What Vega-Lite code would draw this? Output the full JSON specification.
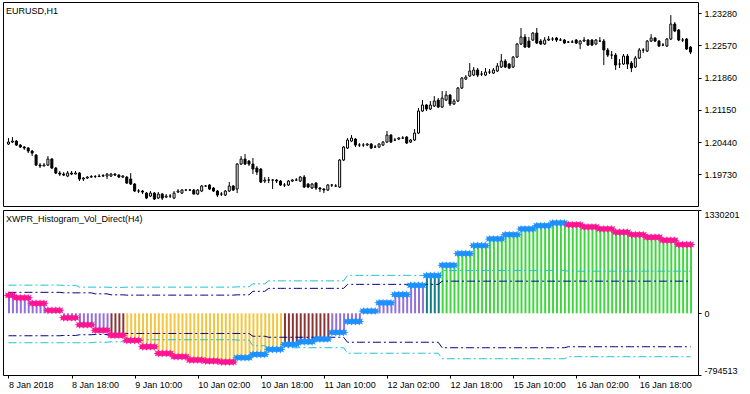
{
"$schema":"https://vega.github.io/schema/vega-lite/v6.json",
"padding":{"left":2,"top":1,"right":0,"bottom":0},
"spacing":2,
"config":{"view":{"stroke":"#000","strokeWidth":1},"font":"Liberation Sans","axis":{"labelFont":"Liberation Sans","labelFontSize":9,"labelColor":"#000","tickColor":"#000","domain":false,"grid":false,"tickSize":3,"title":null},"title":{"font":"Liberation Sans","fontSize":9,"fontWeight":"normal","color":"#000","anchor":"start","frame":"group","baseline":"alphabetic","offset":-14,"dx":3}},
"datasets":{"bars":[
{"i":0,"o":1.20397,"h":1.20529,"l":1.20375,"c":1.20441,"v":231372,"z":"N","d":"dn","cu":362483,"nu":269934,"nl":-289215,"cl":-379193},
{"i":1,"o":1.20441,"h":1.20551,"l":1.20419,"c":1.20463,"v":231372,"z":"N","d":"dn","cu":362483,"nu":269934,"nl":-289215,"cl":-379193},
{"i":2,"o":1.20463,"h":1.20485,"l":1.20353,"c":1.20375,"v":199237,"z":"N","d":"dn","cu":362483,"nu":269934,"nl":-289215,"cl":-379193},
{"i":3,"o":1.20375,"h":1.20397,"l":1.20309,"c":1.20331,"v":199237,"z":"N","d":"dn","cu":362483,"nu":269934,"nl":-289215,"cl":-379193},
{"i":4,"o":1.20331,"h":1.20353,"l":1.20265,"c":1.20309,"v":199237,"z":"N","d":"dn","cu":362483,"nu":269934,"nl":-289215,"cl":-379193},
{"i":5,"o":1.20309,"h":1.20331,"l":1.20198,"c":1.20243,"v":199237,"z":"N","d":"dn","cu":362483,"nu":269934,"nl":-289215,"cl":-379193},
{"i":6,"o":1.20243,"h":1.20265,"l":1.20132,"c":1.20198,"v":128540,"z":"N","d":"dn","cu":362483,"nu":269934,"nl":-289215,"cl":-379193},
{"i":7,"o":1.20154,"h":1.20176,"l":1.19912,"c":1.19934,"v":128540,"z":"N","d":"dn","cu":362483,"nu":269934,"nl":-289215,"cl":-379193},
{"i":8,"o":1.19934,"h":1.19978,"l":1.19868,"c":1.19912,"v":128540,"z":"N","d":"dn","cu":362483,"nu":269934,"nl":-289215,"cl":-379193},
{"i":9,"o":1.19912,"h":1.19978,"l":1.19912,"c":1.19934,"v":128540,"z":"N","d":"dn","cu":362483,"nu":269934,"nl":-289215,"cl":-379193},
{"i":10,"o":1.19934,"h":1.20132,"l":1.19912,"c":1.20066,"v":38562,"z":"N","d":"dn","cu":362483,"nu":269934,"nl":-289215,"cl":-379193},
{"i":11,"o":1.20066,"h":1.20088,"l":1.19846,"c":1.19868,"v":38562,"z":"N","d":"dn","cu":362483,"nu":269934,"nl":-289215,"cl":-379193},
{"i":12,"o":1.19868,"h":1.19890,"l":1.19735,"c":1.19757,"v":38562,"z":"N","d":"dn","cu":362483,"nu":269934,"nl":-289215,"cl":-379193},
{"i":13,"o":1.19757,"h":1.19802,"l":1.19691,"c":1.19735,"v":38562,"z":"N","d":"dn","cu":362483,"nu":269934,"nl":-289215,"cl":-379193},
{"i":14,"o":1.19735,"h":1.19779,"l":1.19691,"c":1.19713,"v":-57843,"z":"N","d":"dn","cu":359912,"nu":263507,"nl":-285359,"cl":-379193},
{"i":15,"o":1.19691,"h":1.19802,"l":1.19669,"c":1.19757,"v":-57843,"z":"N","d":"dn","cu":359912,"nu":263507,"nl":-285359,"cl":-379193},
{"i":16,"o":1.19757,"h":1.19802,"l":1.19713,"c":1.19735,"v":-57843,"z":"N","d":"dn","cu":359912,"nu":263507,"nl":-285359,"cl":-379193},
{"i":17,"o":1.19735,"h":1.19802,"l":1.19735,"c":1.19757,"v":-57843,"z":"N","d":"dn","cu":359912,"nu":263507,"nl":-285359,"cl":-379193},
{"i":18,"o":1.19757,"h":1.19779,"l":1.19581,"c":1.19625,"v":-147821,"z":"N","d":"dn","cu":336775,"nu":263507,"nl":-276361,"cl":-379193},
{"i":19,"o":1.19625,"h":1.19669,"l":1.19581,"c":1.19647,"v":-147821,"z":"N","d":"dn","cu":336775,"nu":263507,"nl":-276361,"cl":-379193},
{"i":20,"o":1.19647,"h":1.19691,"l":1.19625,"c":1.19669,"v":-147821,"z":"N","d":"dn","cu":336775,"nu":263507,"nl":-276361,"cl":-379193},
{"i":21,"o":1.19669,"h":1.19713,"l":1.19647,"c":1.19680,"v":-147821,"z":"N","d":"dn","cu":336775,"nu":263507,"nl":-276361,"cl":-379193},
{"i":22,"o":1.19680,"h":1.19713,"l":1.19647,"c":1.19680,"v":-218518,"z":"N","d":"dn","cu":336775,"nu":250653,"nl":-272505,"cl":-372766},
{"i":23,"o":1.19680,"h":1.19735,"l":1.19669,"c":1.19691,"v":-218518,"z":"N","d":"dn","cu":336775,"nu":250653,"nl":-272505,"cl":-372766},
{"i":24,"o":1.19691,"h":1.19735,"l":1.19669,"c":1.19702,"v":-218518,"z":"N","d":"dn","cu":336775,"nu":250653,"nl":-272505,"cl":-372766},
{"i":25,"o":1.19691,"h":1.19757,"l":1.19625,"c":1.19735,"v":-218518,"z":"N","d":"dn","cu":336775,"nu":250653,"nl":-272505,"cl":-372766},
{"i":26,"o":1.19691,"h":1.19757,"l":1.19669,"c":1.19735,"v":-282788,"z":"WD","d":"dn","cu":334204,"nu":237799,"nl":-269934,"cl":-366339},
{"i":27,"o":1.19735,"h":1.19757,"l":1.19691,"c":1.19713,"v":-282788,"z":"WD","d":"dn","cu":334204,"nu":237799,"nl":-269934,"cl":-366339},
{"i":28,"o":1.19713,"h":1.19735,"l":1.19647,"c":1.19669,"v":-282788,"z":"WD","d":"dn","cu":334204,"nu":237799,"nl":-269934,"cl":-366339},
{"i":29,"o":1.19669,"h":1.19713,"l":1.19647,"c":1.19691,"v":-282788,"z":"WD","d":"dn","cu":334204,"nu":237799,"nl":-269934,"cl":-366339},
{"i":30,"o":1.19669,"h":1.19691,"l":1.19515,"c":1.19537,"v":-349629,"z":"SD","d":"dn","cu":336775,"nu":233943,"nl":-259651,"cl":-340631},
{"i":31,"o":1.19625,"h":1.19757,"l":1.19493,"c":1.19515,"v":-349629,"z":"SD","d":"dn","cu":336775,"nu":233943,"nl":-259651,"cl":-340631},
{"i":32,"o":1.19515,"h":1.19537,"l":1.19338,"c":1.19361,"v":-349629,"z":"SD","d":"dn","cu":336775,"nu":233943,"nl":-259651,"cl":-340631},
{"i":33,"o":1.19361,"h":1.19405,"l":1.19316,"c":1.19361,"v":-349629,"z":"SD","d":"dn","cu":336775,"nu":233943,"nl":-259651,"cl":-340631},
{"i":34,"o":1.19361,"h":1.19383,"l":1.19294,"c":1.19338,"v":-430609,"z":"SD","d":"dn","cu":336775,"nu":233943,"nl":-259651,"cl":-340631},
{"i":35,"o":1.19316,"h":1.19338,"l":1.19184,"c":1.19206,"v":-430609,"z":"SD","d":"dn","cu":336775,"nu":233943,"nl":-259651,"cl":-340631},
{"i":36,"o":1.19250,"h":1.19361,"l":1.19228,"c":1.19316,"v":-430609,"z":"SD","d":"dn","cu":336775,"nu":233943,"nl":-259651,"cl":-340631},
{"i":37,"o":1.19316,"h":1.19338,"l":1.19162,"c":1.19184,"v":-430609,"z":"SD","d":"dn","cu":336775,"nu":233943,"nl":-259651,"cl":-340631},
{"i":38,"o":1.19206,"h":1.19338,"l":1.19184,"c":1.19294,"v":-516731,"z":"SD","d":"dn","cu":336775,"nu":233943,"nl":-259651,"cl":-340631},
{"i":39,"o":1.19294,"h":1.19316,"l":1.19162,"c":1.19206,"v":-516731,"z":"SD","d":"dn","cu":336775,"nu":233943,"nl":-259651,"cl":-340631},
{"i":40,"o":1.19228,"h":1.19294,"l":1.19206,"c":1.19250,"v":-516731,"z":"SD","d":"dn","cu":336775,"nu":233943,"nl":-259651,"cl":-340631},
{"i":41,"o":1.19250,"h":1.19294,"l":1.19206,"c":1.19250,"v":-516731,"z":"SD","d":"dn","cu":336775,"nu":233943,"nl":-259651,"cl":-340631},
{"i":42,"o":1.19206,"h":1.19361,"l":1.19184,"c":1.19316,"v":-559149,"z":"SD","d":"dn","cu":336775,"nu":233943,"nl":-259651,"cl":-340631},
{"i":43,"o":1.19338,"h":1.19405,"l":1.19316,"c":1.19361,"v":-559149,"z":"SD","d":"dn","cu":336775,"nu":233943,"nl":-259651,"cl":-340631},
{"i":44,"o":1.19316,"h":1.19405,"l":1.19294,"c":1.19383,"v":-559149,"z":"SD","d":"dn","cu":336775,"nu":233943,"nl":-259651,"cl":-340631},
{"i":45,"o":1.19383,"h":1.19405,"l":1.19361,"c":1.19383,"v":-559149,"z":"SD","d":"dn","cu":336775,"nu":233943,"nl":-259651,"cl":-340631},
{"i":46,"o":1.19383,"h":1.19405,"l":1.19361,"c":1.19383,"v":-601567,"z":"SD","d":"dn","cu":336775,"nu":233943,"nl":-259651,"cl":-340631},
{"i":47,"o":1.19383,"h":1.19405,"l":1.19294,"c":1.19294,"v":-601567,"z":"SD","d":"dn","cu":336775,"nu":233943,"nl":-259651,"cl":-340631},
{"i":48,"o":1.19294,"h":1.19405,"l":1.19272,"c":1.19383,"v":-601567,"z":"SD","d":"dn","cu":336775,"nu":233943,"nl":-259651,"cl":-340631},
{"i":49,"o":1.19361,"h":1.19493,"l":1.19338,"c":1.19471,"v":-601567,"z":"SD","d":"dn","cu":336775,"nu":233943,"nl":-259651,"cl":-340631},
{"i":50,"o":1.19471,"h":1.19493,"l":1.19449,"c":1.19471,"v":-614421,"z":"SD","d":"dn","cu":336775,"nu":233943,"nl":-259651,"cl":-340631},
{"i":51,"o":1.19493,"h":1.19515,"l":1.19383,"c":1.19405,"v":-614421,"z":"SD","d":"dn","cu":336775,"nu":233943,"nl":-259651,"cl":-340631},
{"i":52,"o":1.19427,"h":1.19449,"l":1.19338,"c":1.19361,"v":-614421,"z":"SD","d":"dn","cu":336775,"nu":233943,"nl":-259651,"cl":-340631},
{"i":53,"o":1.19361,"h":1.19383,"l":1.19228,"c":1.19272,"v":-614421,"z":"SD","d":"dn","cu":336775,"nu":233943,"nl":-259651,"cl":-340631},
{"i":54,"o":1.19294,"h":1.19338,"l":1.19250,"c":1.19294,"v":-627275,"z":"SD","d":"dn","cu":336775,"nu":233943,"nl":-259651,"cl":-340631},
{"i":55,"o":1.19272,"h":1.19383,"l":1.19250,"c":1.19361,"v":-627275,"z":"SD","d":"dn","cu":336775,"nu":233943,"nl":-259651,"cl":-340631},
{"i":56,"o":1.19361,"h":1.19559,"l":1.19338,"c":1.19471,"v":-627275,"z":"SD","d":"dn","cu":336775,"nu":233943,"nl":-259651,"cl":-340631},
{"i":57,"o":1.19471,"h":1.19493,"l":1.19361,"c":1.19383,"v":-627275,"z":"SD","d":"dn","cu":336775,"nu":233943,"nl":-259651,"cl":-340631},
{"i":58,"o":1.19405,"h":1.19978,"l":1.19316,"c":1.19956,"v":-572003,"z":"SD","d":"up","cu":340631,"nu":237799,"nl":-259651,"cl":-344487},
{"i":59,"o":1.19956,"h":1.20132,"l":1.19934,"c":1.20066,"v":-572003,"z":"SD","d":"up","cu":340631,"nu":237799,"nl":-259651,"cl":-344487},
{"i":60,"o":1.20066,"h":1.20176,"l":1.19934,"c":1.19956,"v":-572003,"z":"SD","d":"up","cu":340631,"nu":237799,"nl":-259651,"cl":-344487},
{"i":61,"o":1.20022,"h":1.20044,"l":1.19912,"c":1.19956,"v":-572003,"z":"SD","d":"up","cu":340631,"nu":237799,"nl":-259651,"cl":-344487},
{"i":62,"o":1.19956,"h":1.20088,"l":1.19735,"c":1.19846,"v":-529585,"z":"SD","d":"up","cu":379193,"nu":282788,"nl":-295642,"cl":-417755},
{"i":63,"o":1.19868,"h":1.19912,"l":1.19713,"c":1.19779,"v":-529585,"z":"SD","d":"up","cu":379193,"nu":282788,"nl":-295642,"cl":-417755},
{"i":64,"o":1.19846,"h":1.19868,"l":1.19537,"c":1.19559,"v":-529585,"z":"SD","d":"up","cu":379193,"nu":282788,"nl":-295642,"cl":-417755},
{"i":65,"o":1.19581,"h":1.19669,"l":1.19537,"c":1.19603,"v":-529585,"z":"SD","d":"up","cu":379193,"nu":282788,"nl":-295642,"cl":-417755},
{"i":66,"o":1.19603,"h":1.19669,"l":1.19537,"c":1.19603,"v":-465315,"z":"SD","d":"up","cu":417755,"nu":321350,"nl":-308496,"cl":-443463},
{"i":67,"o":1.19603,"h":1.19625,"l":1.19405,"c":1.19603,"v":-465315,"z":"SD","d":"up","cu":417755,"nu":321350,"nl":-308496,"cl":-443463},
{"i":68,"o":1.19603,"h":1.19625,"l":1.19537,"c":1.19581,"v":-465315,"z":"SD","d":"up","cu":417755,"nu":321350,"nl":-308496,"cl":-443463},
{"i":69,"o":1.19581,"h":1.19603,"l":1.19471,"c":1.19493,"v":-465315,"z":"SD","d":"up","cu":417755,"nu":321350,"nl":-308496,"cl":-443463},
{"i":70,"o":1.19493,"h":1.19537,"l":1.19449,"c":1.19493,"v":-401045,"z":"WD","d":"up","cu":417755,"nu":321350,"nl":-308496,"cl":-443463},
{"i":71,"o":1.19493,"h":1.19603,"l":1.19471,"c":1.19581,"v":-401045,"z":"WD","d":"up","cu":417755,"nu":321350,"nl":-308496,"cl":-443463},
{"i":72,"o":1.19581,"h":1.19625,"l":1.19559,"c":1.19603,"v":-401045,"z":"WD","d":"up","cu":417755,"nu":321350,"nl":-308496,"cl":-443463},
{"i":73,"o":1.19603,"h":1.19647,"l":1.19581,"c":1.19603,"v":-401045,"z":"WD","d":"up","cu":417755,"nu":321350,"nl":-308496,"cl":-443463},
{"i":74,"o":1.19581,"h":1.19691,"l":1.19559,"c":1.19669,"v":-366339,"z":"WD","d":"up","cu":417755,"nu":321350,"nl":-308496,"cl":-443463},
{"i":75,"o":1.19669,"h":1.19713,"l":1.19427,"c":1.19449,"v":-366339,"z":"WD","d":"up","cu":417755,"nu":321350,"nl":-308496,"cl":-443463},
{"i":76,"o":1.19515,"h":1.19537,"l":1.19427,"c":1.19449,"v":-366339,"z":"WD","d":"up","cu":417755,"nu":321350,"nl":-308496,"cl":-443463},
{"i":77,"o":1.19427,"h":1.19537,"l":1.19405,"c":1.19515,"v":-366339,"z":"WD","d":"up","cu":417755,"nu":321350,"nl":-308496,"cl":-443463},
{"i":78,"o":1.19537,"h":1.19559,"l":1.19383,"c":1.19427,"v":-331633,"z":"WD","d":"up","cu":417755,"nu":321350,"nl":-308496,"cl":-443463},
{"i":79,"o":1.19427,"h":1.19449,"l":1.19338,"c":1.19405,"v":-331633,"z":"WD","d":"up","cu":417755,"nu":321350,"nl":-308496,"cl":-443463},
{"i":80,"o":1.19405,"h":1.19427,"l":1.19316,"c":1.19383,"v":-331633,"z":"WD","d":"up","cu":417755,"nu":321350,"nl":-308496,"cl":-443463},
{"i":81,"o":1.19383,"h":1.19515,"l":1.19361,"c":1.19493,"v":-331633,"z":"WD","d":"up","cu":417755,"nu":321350,"nl":-308496,"cl":-443463},
{"i":82,"o":1.19493,"h":1.19515,"l":1.19449,"c":1.19493,"v":-246797,"z":"N","d":"up","cu":417755,"nu":321350,"nl":-308496,"cl":-443463},
{"i":83,"o":1.19471,"h":1.19515,"l":1.19449,"c":1.19471,"v":-246797,"z":"N","d":"up","cu":417755,"nu":321350,"nl":-308496,"cl":-443463},
{"i":84,"o":1.19449,"h":1.20066,"l":1.19427,"c":1.20044,"v":-246797,"z":"N","d":"up","cu":417755,"nu":321350,"nl":-308496,"cl":-443463},
{"i":85,"o":1.20044,"h":1.20353,"l":1.20022,"c":1.20331,"v":-246797,"z":"N","d":"up","cu":417755,"nu":321350,"nl":-308496,"cl":-443463},
{"i":86,"o":1.20309,"h":1.20529,"l":1.20287,"c":1.20485,"v":-105403,"z":"N","d":"up","cu":488452,"nu":372766,"nl":-372766,"cl":-514160},
{"i":87,"o":1.20463,"h":1.20595,"l":1.20441,"c":1.20529,"v":-105403,"z":"N","d":"up","cu":488452,"nu":372766,"nl":-372766,"cl":-514160},
{"i":88,"o":1.20507,"h":1.20529,"l":1.20331,"c":1.20375,"v":-105403,"z":"N","d":"up","cu":488452,"nu":372766,"nl":-372766,"cl":-514160},
{"i":89,"o":1.20375,"h":1.20419,"l":1.20331,"c":1.20375,"v":-105403,"z":"N","d":"up","cu":488452,"nu":372766,"nl":-372766,"cl":-514160},
{"i":90,"o":1.20375,"h":1.20419,"l":1.20331,"c":1.20375,"v":28279,"z":"N","d":"up","cu":488452,"nu":372766,"nl":-372766,"cl":-514160},
{"i":91,"o":1.20375,"h":1.20419,"l":1.20353,"c":1.20397,"v":28279,"z":"N","d":"up","cu":488452,"nu":372766,"nl":-372766,"cl":-514160},
{"i":92,"o":1.20397,"h":1.20419,"l":1.20287,"c":1.20309,"v":28279,"z":"N","d":"up","cu":488452,"nu":372766,"nl":-372766,"cl":-514160},
{"i":93,"o":1.20331,"h":1.20375,"l":1.20309,"c":1.20331,"v":28279,"z":"N","d":"up","cu":488452,"nu":372766,"nl":-372766,"cl":-514160},
{"i":94,"o":1.20331,"h":1.20419,"l":1.20309,"c":1.20397,"v":134967,"z":"N","d":"up","cu":488452,"nu":372766,"nl":-372766,"cl":-514160},
{"i":95,"o":1.20375,"h":1.20463,"l":1.20353,"c":1.20441,"v":134967,"z":"N","d":"up","cu":488452,"nu":372766,"nl":-372766,"cl":-514160},
{"i":96,"o":1.20441,"h":1.20684,"l":1.20419,"c":1.20595,"v":134967,"z":"N","d":"up","cu":488452,"nu":372766,"nl":-372766,"cl":-514160},
{"i":97,"o":1.20595,"h":1.20617,"l":1.20419,"c":1.20441,"v":134967,"z":"N","d":"up","cu":488452,"nu":372766,"nl":-372766,"cl":-514160},
{"i":98,"o":1.20485,"h":1.20529,"l":1.20463,"c":1.20485,"v":241655,"z":"N","d":"up","cu":488452,"nu":372766,"nl":-372766,"cl":-514160},
{"i":99,"o":1.20507,"h":1.20551,"l":1.20485,"c":1.20529,"v":241655,"z":"N","d":"up","cu":488452,"nu":372766,"nl":-372766,"cl":-514160},
{"i":100,"o":1.20529,"h":1.20573,"l":1.20507,"c":1.20529,"v":241655,"z":"N","d":"up","cu":488452,"nu":372766,"nl":-372766,"cl":-514160},
{"i":101,"o":1.20551,"h":1.20573,"l":1.20397,"c":1.20419,"v":241655,"z":"N","d":"up","cu":488452,"nu":372766,"nl":-372766,"cl":-514160},
{"i":102,"o":1.20441,"h":1.20507,"l":1.20419,"c":1.20485,"v":359912,"z":"N","d":"up","cu":488452,"nu":372766,"nl":-372766,"cl":-514160},
{"i":103,"o":1.20485,"h":1.20728,"l":1.20463,"c":1.20639,"v":359912,"z":"N","d":"up","cu":488452,"nu":372766,"nl":-372766,"cl":-514160},
{"i":104,"o":1.20639,"h":1.21191,"l":1.20617,"c":1.21125,"v":359912,"z":"N","d":"up","cu":488452,"nu":372766,"nl":-372766,"cl":-514160},
{"i":105,"o":1.21125,"h":1.21367,"l":1.21102,"c":1.21257,"v":359912,"z":"N","d":"up","cu":488452,"nu":372766,"nl":-372766,"cl":-514160},
{"i":106,"o":1.21257,"h":1.21279,"l":1.21125,"c":1.21169,"v":485881,"z":"WU","d":"up","cu":488452,"nu":372766,"nl":-372766,"cl":-514160},
{"i":107,"o":1.21169,"h":1.21345,"l":1.21147,"c":1.21257,"v":485881,"z":"WU","d":"up","cu":488452,"nu":372766,"nl":-372766,"cl":-514160},
{"i":108,"o":1.21235,"h":1.21455,"l":1.21213,"c":1.21345,"v":485881,"z":"WU","d":"up","cu":488452,"nu":372766,"nl":-372766,"cl":-514160},
{"i":109,"o":1.21367,"h":1.21411,"l":1.21191,"c":1.21213,"v":485881,"z":"WU","d":"up","cu":488452,"nu":372766,"nl":-372766,"cl":-514160},
{"i":110,"o":1.21213,"h":1.21566,"l":1.21191,"c":1.21411,"v":619563,"z":"SU","d":"up","cu":550151,"nu":413899,"nl":-443463,"cl":-584857},
{"i":111,"o":1.21367,"h":1.21566,"l":1.21345,"c":1.21477,"v":619563,"z":"SU","d":"up","cu":550151,"nu":413899,"nl":-443463,"cl":-584857},
{"i":112,"o":1.21477,"h":1.21499,"l":1.21235,"c":1.21279,"v":619563,"z":"SU","d":"up","cu":550151,"nu":413899,"nl":-443463,"cl":-584857},
{"i":113,"o":1.21279,"h":1.21389,"l":1.21257,"c":1.21345,"v":619563,"z":"SU","d":"up","cu":550151,"nu":413899,"nl":-443463,"cl":-584857},
{"i":114,"o":1.21345,"h":1.21654,"l":1.21323,"c":1.21632,"v":768669,"z":"SU","d":"up","cu":550151,"nu":413899,"nl":-443463,"cl":-584857},
{"i":115,"o":1.21632,"h":1.21874,"l":1.21610,"c":1.21852,"v":768669,"z":"SU","d":"up","cu":550151,"nu":413899,"nl":-443463,"cl":-584857},
{"i":116,"o":1.21830,"h":1.21918,"l":1.21808,"c":1.21874,"v":768669,"z":"SU","d":"up","cu":550151,"nu":413899,"nl":-443463,"cl":-584857},
{"i":117,"o":1.21896,"h":1.22183,"l":1.21874,"c":1.22007,"v":768669,"z":"SU","d":"up","cu":550151,"nu":413899,"nl":-443463,"cl":-584857},
{"i":118,"o":1.21918,"h":1.22095,"l":1.21896,"c":1.22029,"v":871501,"z":"SU","d":"up","cu":550151,"nu":413899,"nl":-443463,"cl":-584857},
{"i":119,"o":1.22029,"h":1.22073,"l":1.21874,"c":1.21918,"v":871501,"z":"SU","d":"up","cu":550151,"nu":413899,"nl":-443463,"cl":-584857},
{"i":120,"o":1.21940,"h":1.22007,"l":1.21896,"c":1.21940,"v":871501,"z":"SU","d":"up","cu":550151,"nu":413899,"nl":-443463,"cl":-584857},
{"i":121,"o":1.21918,"h":1.22073,"l":1.21896,"c":1.21984,"v":871501,"z":"SU","d":"up","cu":550151,"nu":413899,"nl":-443463,"cl":-584857},
{"i":122,"o":1.21984,"h":1.22051,"l":1.21940,"c":1.21984,"v":957623,"z":"SU","d":"up","cu":550151,"nu":413899,"nl":-443463,"cl":-584857},
{"i":123,"o":1.21962,"h":1.22073,"l":1.21940,"c":1.22029,"v":957623,"z":"SU","d":"up","cu":550151,"nu":413899,"nl":-443463,"cl":-584857},
{"i":124,"o":1.22007,"h":1.22183,"l":1.21984,"c":1.22117,"v":957623,"z":"SU","d":"up","cu":550151,"nu":413899,"nl":-443463,"cl":-584857},
{"i":125,"o":1.22095,"h":1.22381,"l":1.22073,"c":1.22227,"v":957623,"z":"SU","d":"up","cu":550151,"nu":413899,"nl":-443463,"cl":-584857},
{"i":126,"o":1.22227,"h":1.22271,"l":1.22073,"c":1.22095,"v":1012895,"z":"SU","d":"up","cu":550151,"nu":413899,"nl":-443463,"cl":-584857},
{"i":127,"o":1.22161,"h":1.22183,"l":1.22051,"c":1.22073,"v":1012895,"z":"SU","d":"up","cu":550151,"nu":413899,"nl":-443463,"cl":-584857},
{"i":128,"o":1.22095,"h":1.22337,"l":1.22073,"c":1.22315,"v":1012895,"z":"SU","d":"up","cu":550151,"nu":413899,"nl":-443463,"cl":-584857},
{"i":129,"o":1.22315,"h":1.22624,"l":1.22293,"c":1.22602,"v":1012895,"z":"SU","d":"up","cu":550151,"nu":413899,"nl":-443463,"cl":-584857},
{"i":130,"o":1.22602,"h":1.22955,"l":1.22580,"c":1.22756,"v":1086163,"z":"SU","d":"up","cu":550151,"nu":413899,"nl":-443463,"cl":-584857},
{"i":131,"o":1.22756,"h":1.22822,"l":1.22514,"c":1.22536,"v":1086163,"z":"SU","d":"up","cu":550151,"nu":413899,"nl":-443463,"cl":-584857},
{"i":132,"o":1.22668,"h":1.22756,"l":1.22514,"c":1.22536,"v":1086163,"z":"SU","d":"up","cu":550151,"nu":413899,"nl":-443463,"cl":-584857},
{"i":133,"o":1.22690,"h":1.22866,"l":1.22668,"c":1.22844,"v":1086163,"z":"SU","d":"up","cu":550151,"nu":413899,"nl":-443463,"cl":-584857},
{"i":134,"o":1.22844,"h":1.22955,"l":1.22602,"c":1.22624,"v":1128581,"z":"SU","d":"up","cu":550151,"nu":413899,"nl":-443463,"cl":-584857},
{"i":135,"o":1.22668,"h":1.22712,"l":1.22580,"c":1.22602,"v":1128581,"z":"SU","d":"up","cu":550151,"nu":413899,"nl":-443463,"cl":-584857},
{"i":136,"o":1.22602,"h":1.22756,"l":1.22580,"c":1.22690,"v":1128581,"z":"SU","d":"up","cu":550151,"nu":413899,"nl":-443463,"cl":-584857},
{"i":137,"o":1.22690,"h":1.22778,"l":1.22668,"c":1.22712,"v":1128581,"z":"SU","d":"up","cu":550151,"nu":413899,"nl":-443463,"cl":-584857},
{"i":138,"o":1.22712,"h":1.22756,"l":1.22668,"c":1.22712,"v":1163287,"z":"SU","d":"up","cu":550151,"nu":413899,"nl":-443463,"cl":-584857},
{"i":139,"o":1.22734,"h":1.22756,"l":1.22646,"c":1.22690,"v":1163287,"z":"SU","d":"up","cu":550151,"nu":413899,"nl":-443463,"cl":-584857},
{"i":140,"o":1.22690,"h":1.22734,"l":1.22668,"c":1.22690,"v":1163287,"z":"SU","d":"up","cu":550151,"nu":413899,"nl":-443463,"cl":-584857},
{"i":141,"o":1.22690,"h":1.22712,"l":1.22602,"c":1.22624,"v":1163287,"z":"SU","d":"up","cu":550151,"nu":413899,"nl":-443463,"cl":-584857},
{"i":142,"o":1.22646,"h":1.22668,"l":1.22624,"c":1.22646,"v":1141435,"z":"SU","d":"dn","cu":542439,"nu":413899,"nl":-430609,"cl":-559149},
{"i":143,"o":1.22646,"h":1.22690,"l":1.22624,"c":1.22646,"v":1141435,"z":"SU","d":"dn","cu":542439,"nu":413899,"nl":-430609,"cl":-559149},
{"i":144,"o":1.22690,"h":1.22712,"l":1.22602,"c":1.22624,"v":1141435,"z":"SU","d":"dn","cu":542439,"nu":413899,"nl":-430609,"cl":-559149},
{"i":145,"o":1.22602,"h":1.22690,"l":1.22492,"c":1.22668,"v":1141435,"z":"SU","d":"dn","cu":542439,"nu":413899,"nl":-430609,"cl":-559149},
{"i":146,"o":1.22668,"h":1.22756,"l":1.22646,"c":1.22690,"v":1111871,"z":"SU","d":"dn","cu":542439,"nu":413899,"nl":-430609,"cl":-559149},
{"i":147,"o":1.22690,"h":1.22712,"l":1.22558,"c":1.22580,"v":1111871,"z":"SU","d":"dn","cu":542439,"nu":413899,"nl":-430609,"cl":-559149},
{"i":148,"o":1.22690,"h":1.22712,"l":1.22558,"c":1.22580,"v":1111871,"z":"SU","d":"dn","cu":542439,"nu":413899,"nl":-430609,"cl":-559149},
{"i":149,"o":1.22602,"h":1.22712,"l":1.22580,"c":1.22690,"v":1111871,"z":"SU","d":"dn","cu":542439,"nu":413899,"nl":-430609,"cl":-559149},
{"i":150,"o":1.22668,"h":1.22756,"l":1.22646,"c":1.22668,"v":1086163,"z":"SU","d":"dn","cu":542439,"nu":413899,"nl":-430609,"cl":-559149},
{"i":151,"o":1.22668,"h":1.22712,"l":1.22139,"c":1.22470,"v":1086163,"z":"SU","d":"dn","cu":542439,"nu":413899,"nl":-430609,"cl":-559149},
{"i":152,"o":1.22470,"h":1.22514,"l":1.22315,"c":1.22359,"v":1086163,"z":"SU","d":"dn","cu":542439,"nu":413899,"nl":-430609,"cl":-559149},
{"i":153,"o":1.22359,"h":1.22448,"l":1.22271,"c":1.22359,"v":1086163,"z":"SU","d":"dn","cu":542439,"nu":413899,"nl":-430609,"cl":-559149},
{"i":154,"o":1.22359,"h":1.22403,"l":1.22029,"c":1.22139,"v":1043745,"z":"SU","d":"dn","cu":542439,"nu":413899,"nl":-430609,"cl":-559149},
{"i":155,"o":1.22161,"h":1.22271,"l":1.22073,"c":1.22161,"v":1043745,"z":"SU","d":"dn","cu":542439,"nu":413899,"nl":-430609,"cl":-559149},
{"i":156,"o":1.22161,"h":1.22381,"l":1.22139,"c":1.22337,"v":1043745,"z":"SU","d":"dn","cu":542439,"nu":413899,"nl":-430609,"cl":-559149},
{"i":157,"o":1.22337,"h":1.22381,"l":1.22051,"c":1.22161,"v":1043745,"z":"SU","d":"dn","cu":542439,"nu":413899,"nl":-430609,"cl":-559149},
{"i":158,"o":1.22183,"h":1.22227,"l":1.21984,"c":1.22073,"v":1012895,"z":"SU","d":"dn","cu":542439,"nu":413899,"nl":-430609,"cl":-559149},
{"i":159,"o":1.22095,"h":1.22337,"l":1.22073,"c":1.22293,"v":1012895,"z":"SU","d":"dn","cu":542439,"nu":413899,"nl":-430609,"cl":-559149},
{"i":160,"o":1.22293,"h":1.22514,"l":1.22271,"c":1.22470,"v":1012895,"z":"SU","d":"dn","cu":542439,"nu":413899,"nl":-430609,"cl":-559149},
{"i":161,"o":1.22470,"h":1.22514,"l":1.22403,"c":1.22470,"v":1012895,"z":"SU","d":"dn","cu":542439,"nu":413899,"nl":-430609,"cl":-559149},
{"i":162,"o":1.22448,"h":1.22690,"l":1.22425,"c":1.22668,"v":979475,"z":"SU","d":"dn","cu":542439,"nu":413899,"nl":-430609,"cl":-559149},
{"i":163,"o":1.22668,"h":1.22822,"l":1.22646,"c":1.22734,"v":979475,"z":"SU","d":"dn","cu":542439,"nu":413899,"nl":-430609,"cl":-559149},
{"i":164,"o":1.22734,"h":1.22756,"l":1.22646,"c":1.22668,"v":979475,"z":"SU","d":"dn","cu":542439,"nu":413899,"nl":-430609,"cl":-559149},
{"i":165,"o":1.22668,"h":1.22690,"l":1.22536,"c":1.22558,"v":979475,"z":"SU","d":"dn","cu":542439,"nu":413899,"nl":-430609,"cl":-559149},
{"i":166,"o":1.22580,"h":1.22624,"l":1.22558,"c":1.22580,"v":940913,"z":"SU","d":"dn","cu":542439,"nu":413899,"nl":-430609,"cl":-559149},
{"i":167,"o":1.22558,"h":1.22734,"l":1.22536,"c":1.22712,"v":940913,"z":"SU","d":"dn","cu":542439,"nu":413899,"nl":-430609,"cl":-559149},
{"i":168,"o":1.22712,"h":1.23241,"l":1.22690,"c":1.23043,"v":940913,"z":"SU","d":"dn","cu":542439,"nu":413899,"nl":-430609,"cl":-559149},
{"i":169,"o":1.23043,"h":1.23087,"l":1.22866,"c":1.22889,"v":940913,"z":"SU","d":"dn","cu":542439,"nu":413899,"nl":-430609,"cl":-559149},
{"i":170,"o":1.22911,"h":1.22933,"l":1.22668,"c":1.22690,"v":884355,"z":"SU","d":"dn","cu":542439,"nu":413899,"nl":-430609,"cl":-559149},
{"i":171,"o":1.22690,"h":1.22734,"l":1.22646,"c":1.22690,"v":884355,"z":"SU","d":"dn","cu":542439,"nu":413899,"nl":-430609,"cl":-559149},
{"i":172,"o":1.22712,"h":1.22734,"l":1.22470,"c":1.22492,"v":884355,"z":"SU","d":"dn","cu":542439,"nu":413899,"nl":-430609,"cl":-559149},
{"i":173,"o":1.22536,"h":1.22558,"l":1.22381,"c":1.22425,"v":884355,"z":"SU","d":"dn","cu":542439,"nu":413899,"nl":-430609,"cl":-559149}
]},
"vconcat":[
{"width":695,"height":204,
 "title":{"text":"EURUSD,H1"},
 "data":{"name":"bars"},
 "encoding":{"x":{"field":"i","type":"quantitative","scale":{"domain":[-0.125,173.625],"nice":false,"zero":false},"axis":null}},
 "layer":[
  {"mark":{"type":"rule","color":"#000","strokeWidth":1},
   "encoding":{"y":{"field":"l","type":"quantitative","scale":{"domain":[1.19031,1.23529],"nice":false,"zero":false},"axis":{"orient":"right","values":[1.1973,1.2044,1.2115,1.2186,1.2257,1.2328],"format":".5f","labelPadding":3}},"y2":{"field":"h"}}},
  {"mark":{"type":"bar","size":2,"stroke":"#000","strokeWidth":1},
   "encoding":{"y":{"field":"o","type":"quantitative"},"y2":{"field":"c"},
    "fill":{"condition":{"test":"datum.c >= datum.o","value":"#ffffff"},"value":"#000000"}}}
 ]},
{"width":695,"height":165,
 "title":{"text":"XWPR_Histogram_Vol_Direct(H4)"},
 "data":{"name":"bars"},
 "encoding":{"x":{"field":"i","type":"quantitative","scale":{"domain":[-0.125,173.625],"nice":false,"zero":false},
   "axis":{"orient":"bottom","values":[0,16,32,48,64,80,96,112,128,144,160],"labelExpr":"['8 Jan 2018','8 Jan 18:00','9 Jan 10:00','10 Jan 02:00','10 Jan 18:00','11 Jan 10:00','12 Jan 02:00','12 Jan 18:00','15 Jan 10:00','16 Jan 02:00','16 Jan 18:00'][round(datum.value/16)]","labelAlign":"left","labelBaseline":"top","labelPadding":2,"tickSize":3,"labelOverlap":false,"labelBound":false,"labelFlush":false}}},
 "layer":[
  {"mark":{"type":"bar","size":2,"xOffset":0.5},
   "encoding":{"y":{"field":"v","type":"quantitative","scale":{"domain":[-794513,1330201],"nice":false,"zero":false},
     "axis":{"orient":"right","values":[-794513,0,1330201],"labelFlush":true,"labelPadding":3,"labelExpr":"replace(format(datum.value,'d'),'\u2212','-')"}},
    "y2":{"datum":0},
    "color":{"field":"z","type":"nominal","scale":{"domain":["N","WD","SD","WU","SU"],"range":["#9370DB","#8B3434","#F4C640","#138080","#3ED83E"]},"legend":null}}},
  {"transform":[{"fold":["cu","nu","nl","cl"],"as":["lvl","lv"]}],
   "mark":{"type":"line","strokeWidth":1,"strokeDash":[8,3,2,3]},
   "encoding":{"y":{"field":"lv","type":"quantitative"},
    "stroke":{"field":"lvl","type":"nominal","scale":{"domain":["cu","nu","nl","cl"],"range":["#1EC0D8","#00008B","#00008B","#1EC0D8"]},"legend":null}}},
  {"mark":{"type":"point","filled":true,"opacity":1,"strokeWidth":0,"size":100,"shape":"M1,0L0.5,0.16L0.71,0.6L0.2,0.38L0,0.8L-0.2,0.38L-0.71,0.6L-0.5,0.16L-1,0L-0.5,-0.16L-0.71,-0.6L-0.2,-0.38L0,-0.8L0.2,-0.38L0.71,-0.6L0.5,-0.16Z"},
   "encoding":{"y":{"field":"v","type":"quantitative"},
    "fill":{"field":"d","type":"nominal","scale":{"domain":["dn","up"],"range":["#FF1493","#1E90FF"]},"legend":null}}}
 ]}
]
}
